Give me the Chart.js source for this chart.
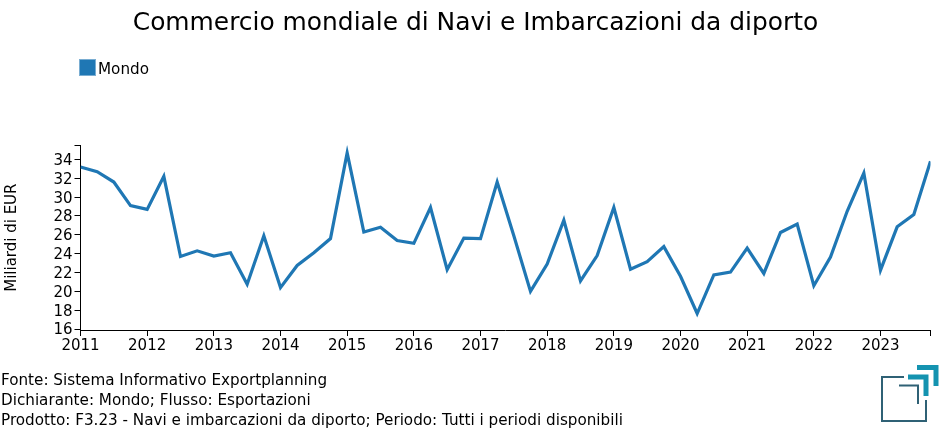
<!DOCTYPE html>
<html>
<head>
<meta charset="utf-8">
<script src="https://cdn.jsdelivr.net/npm/chart.js@4"></script>
<style>
    html, body { margin: 0; padding: 0; background: #fff; }
    body { width: 950px; height: 435px; position: relative; overflow: hidden; font-family: "DejaVu Sans", sans-serif; color: #000; }
    #chart { position: absolute; left: 0; top: 0; }
    #title { position: absolute; left: 0; top: 7px; width: 951px; text-align: center; font-size: 24.9px; line-height: 30px; white-space: nowrap; }
    #legend { position: absolute; left: 98px; top: 60px; font-size: 15.2px; line-height: 18px; }
    #swatch { position: absolute; left: 79px; top: 59px; width: 17px; height: 17px; box-sizing: border-box; border: 1px solid rgba(31, 119, 180, 0.6); background-clip: padding-box; }
    #footer { position: absolute; left: 1px; top: 370px; font-size: 15.2px; line-height: 20px; white-space: nowrap; }
    #logo { position: absolute; left: 860px; top: 355px; }
</style>
</head>
<body>
<canvas id="chart" width="950" height="435"></canvas>
<div id="title"></div>
<div id="swatch"></div>
<div id="legend"></div>
<div id="footer"></div>
<svg id="logo" width="90" height="75" viewBox="0 0 90 75">
    <path d="M44 22H22V66H66V45" fill="none" stroke="#2f6175" stroke-width="2"/>
    <path d="M39 30.500H58V49" fill="none" stroke="#2f6175" stroke-width="2"/>
    <path d="M48 22H66V41" fill="none" stroke="#1493b0" stroke-width="5"/>
    <path d="M57 12.500H76V31" fill="none" stroke="#1493b0" stroke-width="5"/>
</svg>
<script>
const titleText = 'Commercio mondiale di Navi e Imbarcazioni da diporto';
const yAxisTitle = 'Miliardi di EUR';
const seriesName = 'Mondo';
const seriesColor = '#1f77b4';
const footerLines = [
    'Fonte: Sistema Informativo Exportplanning',
    'Dichiarante: Mondo; Flusso: Esportazioni',
    'Prodotto: F3.23 - Navi e imbarcazioni da diporto; Periodo: Tutti i periodi disponibili'
];

// trimestri, un valore per quarto
const periods = [
    2011, 2011.25, 2011.5, 2011.75, 2012, 2012.25, 2012.5, 2012.75,
    2013, 2013.25, 2013.5, 2013.75, 2014, 2014.25, 2014.5, 2014.75,
    2015, 2015.25, 2015.5, 2015.75, 2016, 2016.25, 2016.5, 2016.75,
    2017, 2017.25, 2017.5, 2017.75, 2018, 2018.25, 2018.5, 2018.75,
    2019, 2019.25, 2019.5, 2019.75, 2020, 2020.25, 2020.5, 2020.75,
    2021, 2021.25, 2021.5, 2021.75, 2022, 2022.25, 2022.5, 2022.75,
    2023, 2023.25, 2023.5, 2023.75
];
const values = [
    33.2, 32.7, 31.6, 29.1, 28.7, 32.2, 23.7, 24.3,
    23.75, 24.1, 20.75, 25.9, 20.4, 22.75, 24.1, 25.6,
    34.7, 26.3, 26.8, 25.4, 25.1, 28.9, 22.3, 25.65,
    25.6, 31.6, 25.9, 20.0, 22.9, 27.55, 21.1, 23.8,
    28.9, 22.35, 23.15, 24.75, 21.6, 17.65, 21.75, 22.05,
    24.6, 21.9, 26.25, 27.15, 20.6, 23.65, 28.5, 32.55,
    22.25, 26.85, 28.15, 33.8
];
const xTicks = [2011, 2012, 2013, 2014, 2015, 2016, 2017, 2018, 2019, 2020, 2021, 2022, 2023, 2023.75];
const yTicks = [16, 18, 20, 22, 24, 26, 28, 30, 32, 34, 35.5];

document.getElementById('title').textContent = titleText;
document.getElementById('swatch').style.backgroundColor = seriesColor;
document.getElementById('legend').textContent = seriesName;
document.getElementById('footer').innerHTML = footerLines.map(l => `<div>${l}</div>`).join('');

const tickFont = { family: '"DejaVu Sans"', size: 15 };

new Chart(document.getElementById('chart').getContext('2d'), {
    type: 'line',
    data: {
        datasets: [{
            label: seriesName,
            data: periods.map((p, i) => ({ x: p, y: values[i] })),
            borderColor: seriesColor,
            backgroundColor: seriesColor,
            borderWidth: 3.2,
            pointRadius: 0,
            tension: 0
        }]
    },
    options: {
        responsive: false,
        animation: false,
        layout: { padding: { left: 0, right: 19.5, top: 145.3, bottom: 0 } },
        plugins: {
            legend: { display: false },
            tooltip: { enabled: false }
        },
        scales: {
            x: {
                type: 'linear',
                min: 2011,
                max: 2023.75,
                afterBuildTicks: s => { s.ticks = xTicks.map(v => ({ value: v })); },
                afterFit: s => { s.height = 105; },
                grid: { drawOnChartArea: false, color: '#000', tickLength: 6 },
                border: { color: '#000' },
                ticks: {
                    color: '#000',
                    font: tickFont,
                    autoSkip: false,
                    maxRotation: 0,
                    padding: 1,
                    callback: v => Number.isInteger(v) ? String(v) : ''
                }
            },
            y: {
                min: 15.9,
                max: 35.5,
                afterBuildTicks: s => { s.ticks = yTicks.map(v => ({ value: v })); },
                afterFit: s => { s.width = 80.5; },
                grid: { drawOnChartArea: false, color: '#000', tickLength: 6 },
                border: { color: '#000' },
                title: {
                    display: true,
                    text: yAxisTitle,
                    color: '#000',
                    font: { family: '"DejaVu Sans"', size: 15 },
                    padding: { top: 3, bottom: 0 }
                },
                ticks: {
                    color: '#000',
                    // riga vuota + lineHeight piccolo: abbassa le etichette di 1.5px
                    font: { family: '"DejaVu Sans"', size: 15, lineHeight: '3px' },
                    autoSkip: false,
                    padding: 2,
                    callback: v => Number.isInteger(v) ? ['', String(v)] : ''
                }
            }
        }
    }
});
</script>
</body>
</html>
